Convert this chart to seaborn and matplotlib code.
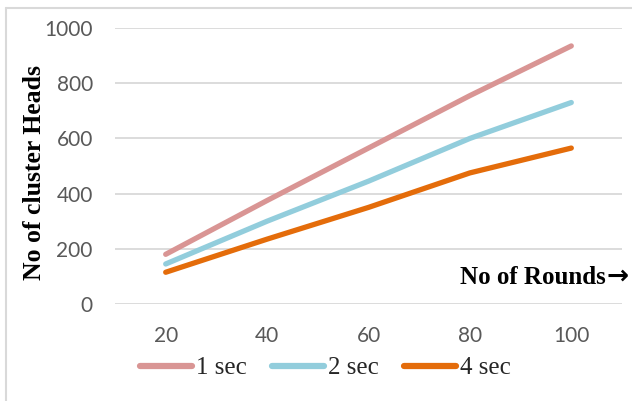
import matplotlib
matplotlib.use("Agg")
import matplotlib.pyplot as plt
from matplotlib.lines import Line2D
import seaborn as sns
import pandas as pd

rounds = [20, 40, 60, 80, 100]
series_names = ["1 sec", "2 sec", "4 sec"]
heads_1s = [180, 375, 565, 755, 935]
heads_2s = [145, 300, 445, 600, 730]
heads_4s = [115, 235, 350, 475, 565]
colors = ["#D99594", "#92CDDC", "#E46C0A"]
y_ticks = [0, 200, 400, 600, 800, 1000]

df = pd.DataFrame({
    "Rounds": rounds * 3,
    "Heads": heads_1s + heads_2s + heads_4s,
    "Series": [s for s in series_names for _ in rounds],
})

sns.set_theme(style="white")
plt.rcParams["font.family"] = ["Lato", "DejaVu Sans"]

fig = plt.figure(figsize=(6.32, 4.01), dpi=100)
ax = fig.add_axes([115 / 632, 1 - 304 / 401, (622 - 115) / 632, (304 - 28) / 401])

sns.lineplot(data=df, x="Rounds", y="Heads", hue="Series", palette=colors,
             linewidth=3.8, ax=ax, legend=False, solid_capstyle="round")

ax.set_xlim(10, 110)
ax.set_ylim(0, 1000)
ax.set_xticks(rounds)
ax.set_yticks(y_ticks)
ax.yaxis.grid(True, color="#D9D9D9", linewidth=1.3)
ax.xaxis.grid(False)
for s in ax.spines.values():
    s.set_visible(False)
ax.tick_params(axis="both", length=0, labelsize=15, labelcolor="#595959")
ax.tick_params(axis="y", pad=16)
ax.tick_params(axis="x", pad=16)
ax.set_xlabel("")
ax.set_ylabel("")

serif = ["Liberation Serif", "DejaVu Serif"]
fig.text(35 / 632, 1 - 172 / 401, "No of cluster Heads", rotation=90,
         ha="center", va="center", fontsize=18.5, fontweight="bold",
         family=serif, color="black")
label_x = fig.text(606 / 632, 1 - 278 / 401, "No of Rounds", ha="right", va="center",
                   fontsize=18, fontweight="bold", family=serif, color="black")
fig.text(606 / 632, 1 - 277 / 401, "\u2192", ha="left", va="center",
         fontsize=19, fontweight="bold", family=["DejaVu Sans"], color="black")

handles = [Line2D([0], [0], color=c, linewidth=4.5, solid_capstyle="round")
           for c in colors]
fig.legend(handles, series_names, loc="center", bbox_to_anchor=(325 / 632, 1 - 368 / 401),
           ncol=3, frameon=False, handlelength=2.1, handletextpad=0.15,
           columnspacing=1.0, prop={"family": serif, "size": 18})

# light outer frame (left and top edges)
fig.add_artist(Line2D([6 / 632, 6 / 632], [0, 1 - 8 / 401], color="#D9D9D9",
                      linewidth=1.5, transform=fig.transFigure))
fig.add_artist(Line2D([6 / 632, 1], [1 - 8 / 401, 1 - 8 / 401], color="#D9D9D9",
                      linewidth=1.5, transform=fig.transFigure))

fig.savefig("out.png", dpi=100)
